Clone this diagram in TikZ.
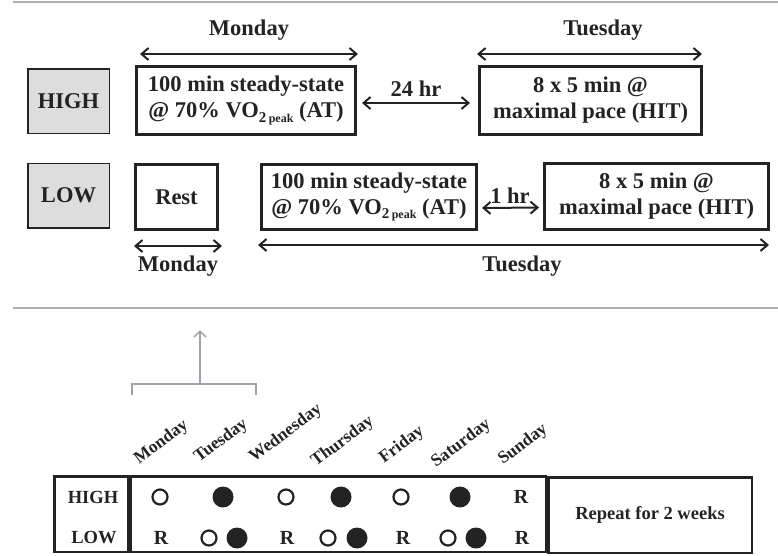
\documentclass[tikz,border=0pt]{standalone}
\usepackage{fontspec}
\setmainfont{Liberation Serif}
\usetikzlibrary{arrows.meta, positioning, calc}
\definecolor{inkdark}{RGB}{35,35,35}
\definecolor{rulegray}{RGB}{175,176,180}
\definecolor{boxgray}{RGB}{221,221,221}
\definecolor{linkgray}{RGB}{158,162,168}
\newcommand{\vopeak}{VO\raisebox{-0.4ex}{\fontsize{15}{15}\selectfont 2\,\fontsize{12}{12}\selectfont peak}}
\tikzset{
	big/.style={font=\fontsize{22.5}{26}\selectfont\bfseries, text=inkdark},
	small/.style={font=\fontsize{18.5}{20}\selectfont\bfseries, text=inkdark},
	daylabel/.style={font=\fontsize{17.5}{19}\selectfont\bfseries, text=inkdark, rotate=37, anchor=base west, inner sep=0pt},
	grouplabel/.style={big, draw=inkdark, line width=1.5pt, fill=boxgray, minimum width=81.5pt, minimum height=64.5pt, inner sep=0pt},
	session/.style={big, draw=inkdark, line width=3pt, align=center, inner sep=0pt},
	cell/.style={small, draw=inkdark, line width=2.5pt, minimum height=75.5pt, inner sep=0pt},
	span/.style={{Straight Barb[length=7pt,width=12pt]}-{Straight Barb[length=7pt,width=12pt]}, line width=2pt, draw=inkdark},
	opendot/.style={circle, draw=inkdark, line width=2.2pt, minimum size=15pt, inner sep=0pt},
	filldot/.style={circle, fill=inkdark, minimum size=21pt, inner sep=0pt},
	rest/.style={font=\fontsize{20}{20}\selectfont\bfseries, text=inkdark, inner sep=0pt},
}
\begin{document}
\begin{tikzpicture}[x=1pt, y=-1pt]
	\useasboundingbox (0,0) rectangle (778,555);
	% separating rules
	\draw[rulegray, line width=2pt] (13,2) -- (778,2);
	\draw[rulegray, line width=2pt] (13,308) -- (778,308);

	% HIGH group
	\node[grouplabel] (high) at (68.5,101) {HIGH};
	\node[session, minimum width=219pt, minimum height=68pt] (at1) at (246,100.5) {100 min steady-state\\@ 70\% \vopeak\ (AT)};
	\node[session, minimum width=222pt, minimum height=68pt] (hit1) at (590.5,100.5) {8 x 5 min @\\maximal pace (HIT)};
	\draw[span] ([xshift=5pt,yshift=11pt]at1.north west) -- ([xshift=1pt,yshift=11pt]at1.north east);
	\draw[span] ([xshift=-1pt,yshift=11pt]hit1.north west) -- ([xshift=-1pt,yshift=11pt]hit1.north east);
	\node[big] (monhigh) at (249,30) {Monday};
	\node[big] (tuehigh) at (603,30) {Tuesday};
	\draw[span, shorten <=5pt, shorten >=8pt] ([yshift=-2.5pt]at1.east) -- ([yshift=-2.5pt]hit1.west);
	\node[big] (gap24) at (416,89) {24 hr};

	% LOW group
	\node[grouplabel] (low) at (68.5,195.5) {LOW};
	\node[session, minimum width=82pt, minimum height=65pt] (rest) at (176.5,197) {Rest};
	\node[session, minimum width=215pt, minimum height=65pt] (at2) at (369,197) {100 min steady-state\\@ 70\% \vopeak\ (AT)};
	\node[session, minimum width=224pt, minimum height=66pt] (hit2) at (656.5,196.5) {8 x 5 min @\\maximal pace (HIT)};
	\draw[span, shorten <=4pt, shorten >=4pt] ([yshift=-11pt]at2.east) -- ([yshift=-11pt]hit2.west);
	\node[big] (gap1) at (510,196) {1 hr};
	\draw[span] ([yshift=-15pt]rest.south west) -- ([xshift=3pt,yshift=-15pt]rest.south east);
	\draw[span] ([xshift=-2pt,yshift=-14pt]at2.south west) -- ([xshift=-1pt,yshift=-14pt]hit2.south east);
	\node[big] (monlow) at (178,266) {Monday};
	\node[big] (tuelow) at (522,266) {Tuesday};

	% bracket pointing back to the two-day block
	\coordinate (bl) at (132,395);
	\coordinate (br) at (256,395);
	\coordinate (bm) at (200,384);
	\coordinate (btip) at (200,330);
	\draw[linkgray, line width=1.5pt] (bl) -- (132,384) -- (256,384) -- (br);
	\draw[linkgray, line width=1.5pt, -{Straight Barb[length=6pt,width=12pt]}] (bm) -- (btip);

	% weekly table
	\node[cell, minimum width=73.5pt] (labcell) at (91,514) {};
	\node[cell, minimum width=415.5pt] (daycell) at (338,514) {};
	\node[cell, minimum width=203.5pt] (repcell) at (650,515) {Repeat for 2 weeks};
	\node[small] (rowhigh) at (93,497) {HIGH};
	\node[small] (rowlow) at (94,538) {LOW};

	\node[daylabel] (dmon) at (139,465) {Monday};
	\node[daylabel] (dtue) at (199,463) {Tuesday};
	\node[daylabel] (dwed) at (254,463) {Wednesday};
	\node[daylabel] (dthu) at (316,467) {Thursday};
	\node[daylabel] (dfri) at (384,464) {Friday};
	\node[daylabel] (dsat) at (436,468) {Saturday};
	\node[daylabel] (dsun) at (503,465) {Sunday};

	\foreach \x in {160,286,401}
		\node[opendot] (ho\x) at (\x,497) {};
	\foreach \x in {223,341,460}
		\node[filldot] (hf\x) at (\x,497) {};
	\node[rest] (hr) at (521,497) {R};

	\foreach \x in {209,328,448}
		\node[opendot] (lo\x) at (\x,538) {};
	\foreach \x in {237,357,476}
		\node[filldot] (lf\x) at (\x,538) {};
	\foreach \x in {161,287,403,522}
		\node[rest] (lr\x) at (\x,538) {R};
\end{tikzpicture}
\end{document}
